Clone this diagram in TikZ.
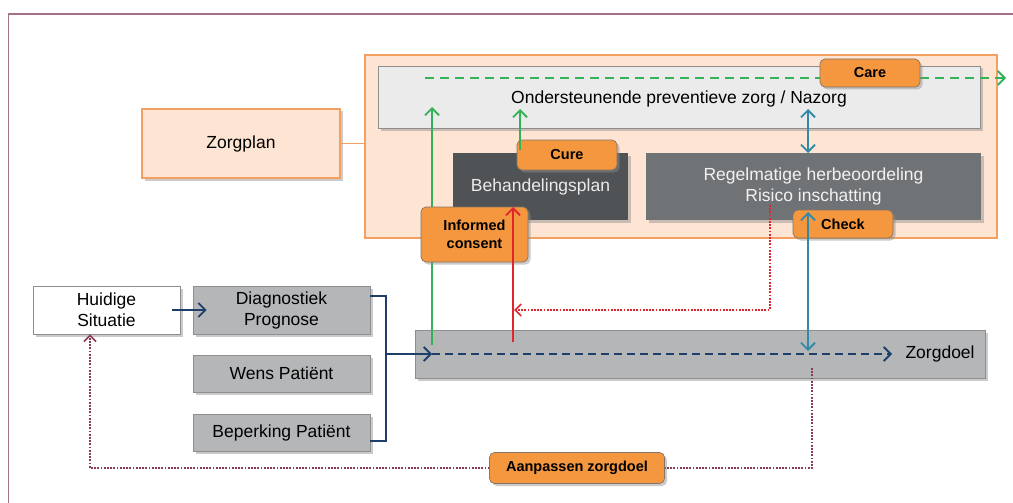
\documentclass[tikz,border=0pt]{standalone}
\usepackage{fontspec}
\setmainfont{Liberation Sans}
\usetikzlibrary{arrows.meta,shadows}
\definecolor{frameC}{HTML}{A5718A}
\definecolor{contFill}{HTML}{FDE4D3}
\definecolor{contDraw}{HTML}{F4A062}
\definecolor{topFill}{HTML}{EBEBEB}
\definecolor{boxDraw}{HTML}{8E8E8E}
\definecolor{darkFill}{HTML}{4F5356}
\definecolor{midFill}{HTML}{707376}
\definecolor{grayFill}{HTML}{B4B6B8}
\definecolor{labFill}{HTML}{F4973F}
\definecolor{labDraw}{HTML}{857565}
\definecolor{navyC}{HTML}{1E3F6B}
\definecolor{greenC}{HTML}{34B356}
\definecolor{redC}{HTML}{E0262C}
\definecolor{tealC}{HTML}{3289A8}
\definecolor{maroonC}{HTML}{8B3A55}
\tikzset{
  shad/.style={drop shadow={shadow xshift=2.5pt,shadow yshift=-2.5pt,fill=black!45,opacity=0.45}},
  boxbase/.style={rectangle,inner sep=0pt,align=center,font=\fontsize{17.5}{21}\selectfont},
  contbox/.style={boxbase,fill=contFill,draw=contDraw,line width=1.2pt},
  topbox/.style={boxbase,fill=topFill,draw=boxDraw,line width=0.9pt,shad},
  darkbox/.style={boxbase,fill=darkFill,text=white!92!black,shad},
  midbox/.style={boxbase,fill=midFill,text=white!95!black,shad},
  graybox/.style={boxbase,fill=grayFill,draw=boxDraw,line width=0.9pt,shad},
  whitebox/.style={boxbase,fill=white,draw=boxDraw,line width=0.9pt,shad},
  lab/.style={rectangle,rounded corners=5pt,inner sep=0pt,align=center,fill=labFill,draw=labDraw,line width=0.7pt,font=\fontsize{14.5}{17.5}\selectfont\bfseries,shad},
  barb/.style={-{Straight Barb[length=7pt,width=14pt,line width=1.8pt]}},
  dbarb/.style={{Straight Barb[length=7pt,width=14pt,line width=1.8pt]}-{Straight Barb[length=7pt,width=14pt,line width=1.8pt]}},
  navyline/.style={draw=navyC,line width=2.1pt},
  greenline/.style={draw=greenC,line width=2.1pt},
  redline/.style={draw=redC,line width=2.1pt},
  tealline/.style={draw=tealC,line width=2.1pt},
  dots/.style={dash pattern=on 1.8pt off 1.4pt,line width=2.2pt},
}
\begin{document}
\begin{tikzpicture}[x=1pt,y=-1pt]
\useasboundingbox (0,0) rectangle (1013,503);
\fill[white] (0,0) rectangle (1013,503);
% outer frame
\draw[frameC,line width=1.3pt] (8.5,503) -- (8.5,14) -- (1013,14);

% care plan container
\node[contbox,minimum width=632,minimum height=183] (cont) at (681,146.5) {};
\node[contbox,minimum width=198,minimum height=69,shad] (zorgplan) at (241,143.5) {Zorgplan};
\draw[contDraw,line width=1.2pt] (zorgplan.east) -- (zorgplan.east -| cont.west);

\node[topbox,minimum width=602,minimum height=62] (top) at (679,97) {};
\node[font=\fontsize{17.5}{21}\selectfont] (toptext) at (679,99) {Ondersteunende preventieve zorg / Nazorg};
\node[darkbox,minimum width=175,minimum height=67] (behand) at (540.5,186.5) {Behandelingsplan};
\node[midbox,minimum width=335,minimum height=67] (regel) at (813.5,186.5) {Regelmatige herbeoordeling\\Risico inschatting};

% left boxes
\node[whitebox,minimum width=147,minimum height=48] (huidige) at (106.5,310) {Huidige\\Situatie};
\node[graybox,minimum width=177,minimum height=48] (diag) at (281.5,310) {Diagnostiek\\Prognose};
\node[graybox,minimum width=177,minimum height=37] (wens) at (281.5,373.5) {Wens Pati\"ent};
\node[graybox,minimum width=177,minimum height=37] (beperk) at (281.5,432.5) {Beperking Pati\"ent};
\node[graybox,minimum width=570,minimum height=48] (zorgdoel) at (700,354) {};
\node[font=\fontsize{17.5}{21}\selectfont,anchor=west] (zdtext) at (902,354) {Zorgdoel};

% coordinates
\coordinate (brTop) at (386,296);
\coordinate (brBot) at (386,441);
\coordinate (brMid) at (386,354);
\coordinate (zdIn) at (432,354);
\coordinate (zdEnd) at (892,354);
\coordinate (g1s) at (432,345);
\coordinate (g1e) at (432,107);
\coordinate (g2s) at (520,150);
\coordinate (g2e) at (520,109);
\coordinate (gdS) at (425,78);
\coordinate (gdE) at (1006,78);
\coordinate (rs) at (513,342);
\coordinate (re) at (513,207);
\coordinate (t1s) at (808,109);
\coordinate (t1e) at (808,153);
\coordinate (t2s) at (808,212);
\coordinate (t2e) at (808,351);
\coordinate (rdS) at (770,205);
\coordinate (rdB) at (770,310);
\coordinate (rdE) at (514,310);
\coordinate (mS) at (812,368);
\coordinate (mB) at (812,468);
\coordinate (mL) at (90,468);

% bracket and navy arrows
\draw[navyline,barb] ([xshift=-8pt]huidige.east) -- ([xshift=14pt]diag.west);
\draw[navyline] (diag.east |- brTop) -- (brTop) -- (brBot) -- (beperk.east |- brBot);
\draw[navyline,barb] (brMid) -- (zdIn);
\draw[navyline,barb,dash pattern=on 8pt off 5pt] (zdIn) -- (zdEnd);

% green arrows
\draw[greenline,barb] (g1s) -- (g1e);
\draw[greenline,barb,dash pattern=on 9pt off 6pt] (gdS) -- (gdE);

% maroon dotted feedback
\draw[maroonC,dots,-{Straight Barb[length=6pt,width=12pt,line width=1.6pt]}] (mS) -- (mB) -- (mL) -- (huidige.south -| mL);

% labels
\node[lab,minimum width=100,minimum height=28] (care) at (870,73) {Care};
\node[lab,minimum width=100,minimum height=30] (cure) at (567,155) {Cure};
\node[lab,minimum width=100,minimum height=28] (check) at (843,224) {Check};
\node[lab,minimum width=107,minimum height=55] (informed) at (474.5,234.5) {Informed\\consent};
\node[lab,minimum width=175,minimum height=31] (aanpassen) at (577,468) {Aanpassen zorgdoel};

% arrows drawn over labels
\draw[greenline,barb] (g2s) -- (g2e);
\draw[redline,barb] (rs) -- (re);
\draw[tealline,dbarb] (t1s) -- (t1e);
\draw[tealline,dbarb] (t2s) -- (t2e);
\draw[redC,dots,-{Straight Barb[length=6pt,width=12pt,line width=1.6pt]}] (rdS) -- (rdB) -- (rdE);
\end{tikzpicture}
\end{document}
